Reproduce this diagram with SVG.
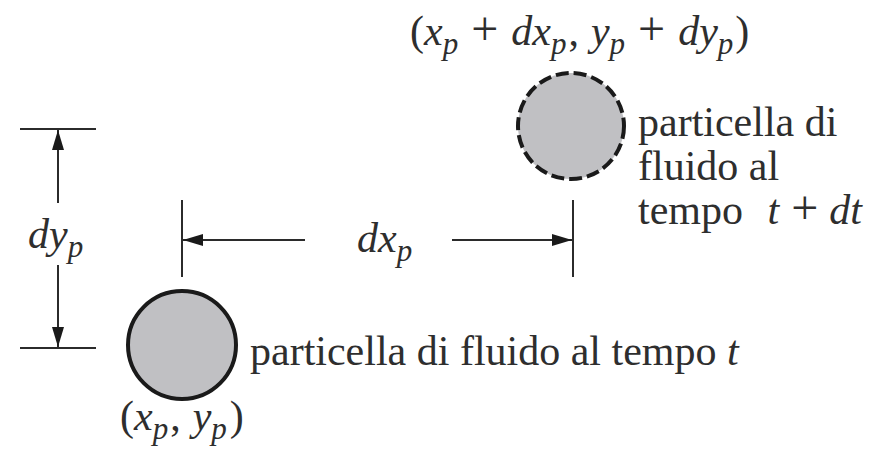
<svg xmlns="http://www.w3.org/2000/svg" width="875" height="459" viewBox="0 0 875 459">
<style>
text{font-family:"Liberation Serif","Times New Roman",serif;fill:#2e2e2e;font-size:42px}
.i{font-style:italic}
.s{font-style:italic;font-size:31px}
.pl{font-size:48px}
.ln{stroke:#2b2b2b;stroke-width:2;fill:none}
.circ{fill:#c0c0c3;stroke:#1a1a1a;stroke-width:4}
</style>
<defs>
<marker id="ahL" viewBox="0 0 20 12" refX="20" refY="6" markerWidth="20" markerHeight="12" markerUnits="userSpaceOnUse" orient="auto">
<path d="M0,0 L20,6 L0,12 Z" fill="#1a1a1a"/>
</marker>
</defs>
<rect width="875" height="459" fill="#ffffff"/>
<g id="particle-t">
<circle class="circ" cx="182" cy="345" r="54"/>
<text x="250" y="365">particella di fluido al tempo <tspan class="i">t</tspan></text>
<text x="120" y="430">(<tspan class="i">x</tspan><tspan class="s" dy="9">p</tspan><tspan dy="-9" dx="2">,</tspan><tspan class="i" dx="12">y</tspan><tspan class="s" dy="9">p</tspan><tspan dy="-9" dx="3">)</tspan></text>
</g>
<g id="particle-tdt">
<circle class="circ" cx="571" cy="126" r="53" stroke-dasharray="13,5"/>
<text x="638" y="136">particella di</text>
<text x="638" y="180">fluido al</text>
<text x="638" y="224">tempo <tspan class="i" dx="14">t</tspan><tspan class="pl" dx="12">+</tspan><tspan class="i" dx="11">dt</tspan></text>
<text x="410" y="45">(<tspan class="i">x</tspan><tspan class="s" dy="9">p</tspan><tspan class="pl" dy="-9" dx="13">+</tspan><tspan class="i" dx="13">dx</tspan><tspan class="s" dy="9">p</tspan><tspan dy="-9" dx="2">,</tspan><tspan class="i" dx="12">y</tspan><tspan class="s" dy="9">p</tspan><tspan class="pl" dy="-9" dx="13">+</tspan><tspan class="i" dx="13">dy</tspan><tspan class="s" dy="9">p</tspan><tspan dy="-9" dx="2">)</tspan></text>
</g>
<g id="connectors">
<line class="ln" x1="20" y1="129" x2="96" y2="129"/>
<line class="ln" x1="20" y1="348" x2="96" y2="348"/>
<line class="ln" x1="58" y1="203" x2="58" y2="130" marker-end="url(#ahL)"/>
<line class="ln" x1="58" y1="265" x2="58" y2="347" marker-end="url(#ahL)"/>
<line class="ln" x1="182" y1="200" x2="182" y2="277"/>
<line class="ln" x1="573" y1="200" x2="573" y2="277"/>
<line class="ln" x1="305" y1="240" x2="183" y2="240" marker-end="url(#ahL)"/>
<line class="ln" x1="452" y1="240" x2="572" y2="240" marker-end="url(#ahL)"/>
</g>
<g id="labels">
<text x="28" y="248"><tspan class="i">dy</tspan><tspan class="s" dy="9">p</tspan></text>
<text x="357" y="252"><tspan class="i">dx</tspan><tspan class="s" dy="9">p</tspan></text>
</g>
</svg>
